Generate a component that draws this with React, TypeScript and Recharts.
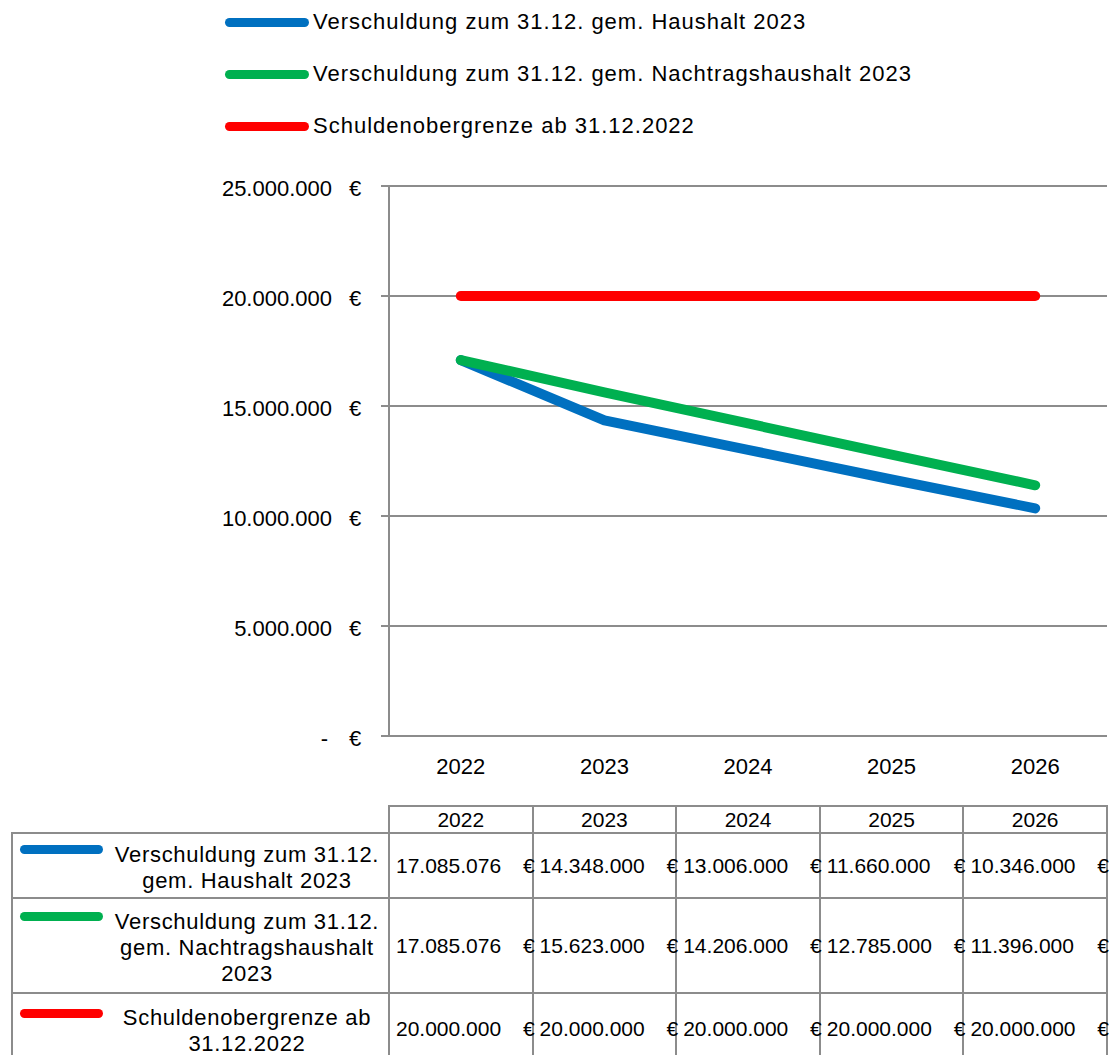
import React from "react";
import { LineChart, Line, CartesianGrid, XAxis, YAxis } from "recharts";

const YEARS = ["2022", "2023", "2024", "2025", "2026"];
const HAUSHALT = [17085076, 14348000, 13006000, 11660000, 10346000];
const NACHTRAG = [17085076, 15623000, 14206000, 12785000, 11396000];
const GRENZE = [20000000, 20000000, 20000000, 20000000, 20000000];
const Y_TICKS = [0, 5000000, 10000000, 15000000, 20000000, 25000000];
const X_BOUNDS = [-0.5, 0.5, 1.5, 2.5, 3.5, 4.5];

const SERIES = [
  { key: "haushalt", values: HAUSHALT, color: "#0070C0", legend: "Verschuldung zum 31.12. gem. Haushalt 2023", rowLines: ["Verschuldung zum 31.12.", "gem. Haushalt 2023"] },
  { key: "nachtrag", values: NACHTRAG, color: "#00B050", legend: "Verschuldung zum 31.12. gem. Nachtragshaushalt 2023", rowLines: ["Verschuldung zum 31.12.", "gem. Nachtragshaushalt", "2023"] },
  { key: "grenze", values: GRENZE, color: "#FF0000", legend: "Schuldenobergrenze ab 31.12.2022", rowLines: ["Schuldenobergrenze ab", "31.12.2022"] },
];

const data = YEARS.map((year, i) => {
  const row: Record<string, number | string> = { idx: i, year };
  SERIES.forEach((s) => (row[s.key] = s.values[i]));
  return row;
});

const fmt = (n: number) => String(n).replace(/\B(?=(\d{3})+(?!\d))/g, ".");

const GRAY = "#8c8c8c";
const FONT = "'Liberation Sans', Arial, sans-serif";
const PLOT_LEFT = 389;
const PLOT_RIGHT = 1107;
const BAND = (PLOT_RIGHT - PLOT_LEFT) / YEARS.length;

const YTick = (props: any) => {
  const { x, y, payload } = props;
  const v = payload.value as number;
  return (
    <g>
      <text x={v === 0 ? x - 53 : x - 49} y={y + 2} textAnchor="end" dominantBaseline="central" fontSize={22} fill="#000" fontFamily={FONT}>
        {v === 0 ? "-" : fmt(v)}
      </text>
      <text x={x - 32} y={y + 2} textAnchor="start" dominantBaseline="central" fontSize={22} fill="#000" fontFamily={FONT}>
        €
      </text>
    </g>
  );
};

// table rows: [top, bottom]
const HEADER = [806, 833];
const ROWS = [
  [833, 898],
  [898, 993],
  [993, 1065],
];
const LABEL_LEFT = 12;
const LH = 26;

const cellStyle = (l: number, t: number, r: number, b: number): React.CSSProperties => ({
  position: "absolute",
  left: l - 1,
  top: t - 1,
  width: r - l + 2,
  height: b - t + 2,
  border: `2px solid ${GRAY}`,
  boxSizing: "border-box",
});

export default function App() {
  const edges = YEARS.map((_, i) => PLOT_LEFT + i * BAND).concat([PLOT_RIGHT]);
  return (
    <div style={{ position: "absolute", left: 0, top: 0, width: 1109, height: 1055, overflow: "hidden", background: "#fff", fontFamily: FONT, color: "#000" }}>
      {SERIES.map((s, i) => (
        <div key={s.key} style={{ position: "absolute", left: 225, top: 22 + i * 52 - 15, height: 30, display: "flex", alignItems: "center", fontSize: 22, letterSpacing: 1.0, whiteSpace: "nowrap" }}>
          <span style={{ display: "inline-block", width: 84, height: 9, borderRadius: 5, background: s.color, marginRight: 4 }} />
          {s.legend}
        </div>
      ))}

      <div style={{ position: "absolute", left: 0, top: 0 }}>
        <LineChart width={1109} height={800} data={data} margin={{ top: 186, right: 1109 - PLOT_RIGHT, left: 0, bottom: 0 }}>
          <CartesianGrid vertical={false} stroke={GRAY} strokeWidth={2} />
          <YAxis
            domain={[0, 25000000]}
            ticks={Y_TICKS}
            interval={0}
            width={PLOT_LEFT}
            tickSize={8}
            tickMargin={0}
            tick={<YTick />}
            tickLine={{ stroke: GRAY, strokeWidth: 2 }}
            axisLine={{ stroke: GRAY, strokeWidth: 2 }}
          />
          <XAxis
            xAxisId="bounds"
            dataKey="idx"
            type="number"
            domain={[-0.5, 4.5]}
            ticks={X_BOUNDS}
            interval={0}
            tick={false}
            tickSize={8}
            height={1}
            tickLine={{ stroke: GRAY, strokeWidth: 2 }}
            axisLine={{ stroke: GRAY, strokeWidth: 2 }}
          />
          <XAxis
            xAxisId="years"
            dataKey="idx"
            type="number"
            domain={[-0.5, 4.5]}
            ticks={[0, 1, 2, 3, 4]}
            interval={0}
            height={63}
            tickSize={8}
            tickMargin={13}
            tickLine={false}
            axisLine={false}
            tickFormatter={(v: number) => YEARS[v]}
            tick={{ fontSize: 22, fill: "#000", fontFamily: FONT }}
          />
          {SERIES.map((s) => (
            <Line
              key={s.key}
              xAxisId="years"
              type="linear"
              dataKey={s.key}
              stroke={s.color}
              strokeWidth={10}
              strokeLinecap="round"
              strokeLinejoin="round"
              dot={false}
              activeDot={false}
              isAnimationActive={false}
            />
          ))}
        </LineChart>
      </div>

      {YEARS.map((y, i) => (
        <div key={y} style={{ ...cellStyle(edges[i], HEADER[0], edges[i + 1], HEADER[1]), display: "flex", alignItems: "center", justifyContent: "center", fontSize: 21 }}>
          {y}
        </div>
      ))}

      {SERIES.map((s, r) => {
        const [t, b] = ROWS[r];
        const center = (t + b) / 2;
        const blockTop = center - (s.rowLines.length * LH) / 2 + 2;
        const keyY = blockTop + LH / 2 - 6 - t;
        return (
          <React.Fragment key={s.key}>
            <div style={cellStyle(LABEL_LEFT, t, PLOT_LEFT, b)}>
              <span style={{ position: "absolute", left: 7, top: keyY - 4.5, width: 83, height: 9, borderRadius: 5, background: s.color }} />
              <div style={{ position: "absolute", left: 90, width: 288, top: blockTop - t - 1, textAlign: "center", fontSize: 22, lineHeight: `${LH}px`, letterSpacing: 0.7, whiteSpace: "nowrap" }}>
                {s.rowLines.map((l) => (
                  <div key={l}>{l}</div>
                ))}
              </div>
            </div>
            {s.values.map((v, i) => (
              <div key={i} style={{ ...cellStyle(edges[i], t, edges[i + 1], b), overflow: "visible" }}>
                <span style={{ position: "absolute", left: 6, top: "50%", transform: "translateY(-50%)", fontSize: 21, whiteSpace: "nowrap" }}>{fmt(v)}</span>
                <span style={{ position: "absolute", right: -3, top: "50%", transform: "translateY(-50%)", fontSize: 21, zIndex: 2 }}>€</span>
              </div>
            ))}
          </React.Fragment>
        );
      })}
    </div>
  );
}
